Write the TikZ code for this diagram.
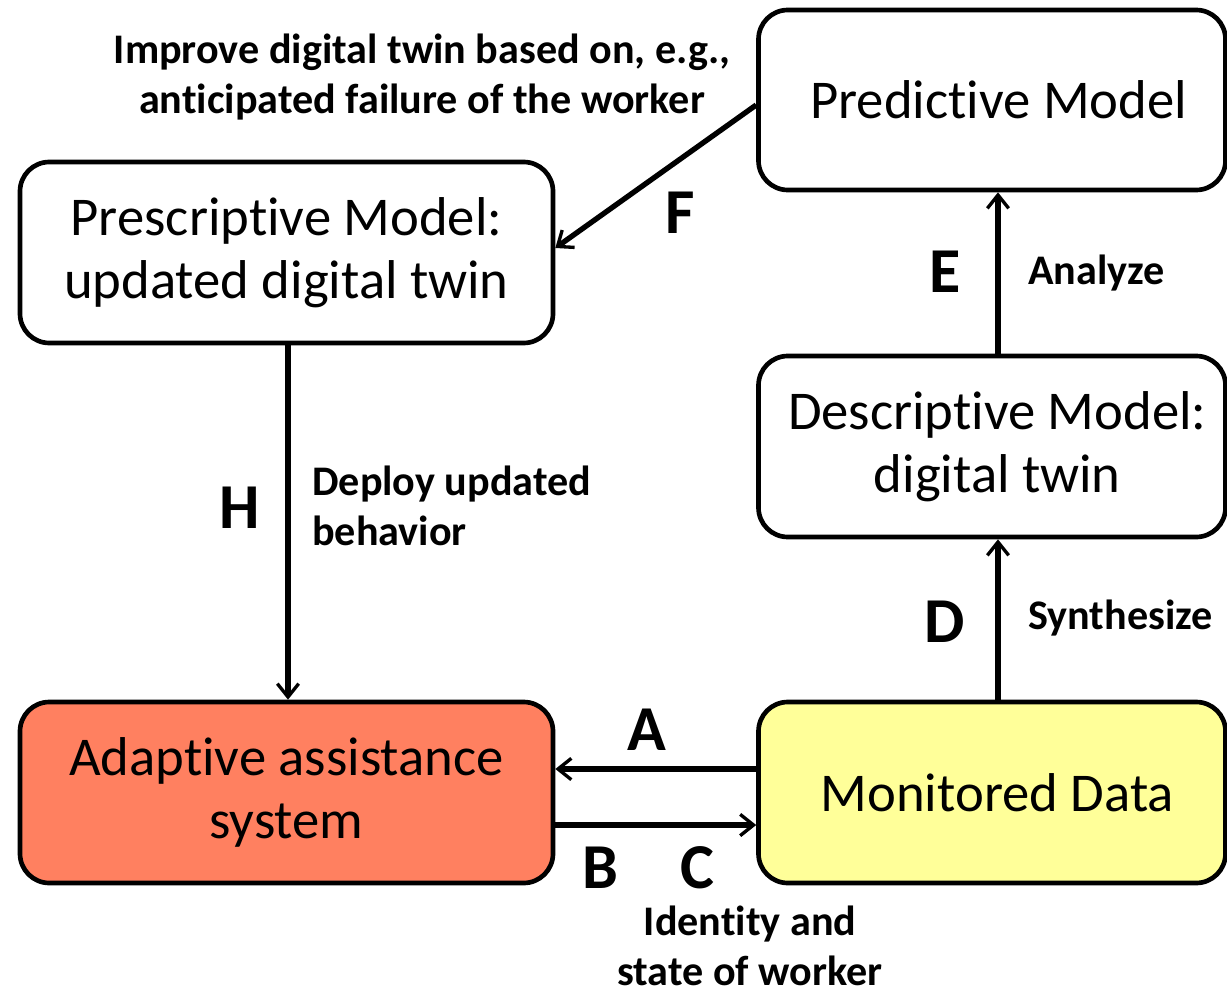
\documentclass[tikz,border=0pt]{standalone}
\usepackage{fontspec}
\setmainfont{Carlito}[Ligatures={NoCommon,NoRare,NoContextual}]
\usetikzlibrary{arrows.meta}
\definecolor{coral}{RGB}{255,128,96}
\definecolor{lightyel}{RGB}{255,255,153}
\newcommand\Ti{t\kern0pt i}
\tikzset{
  box/.style={draw=black, line width=3.5pt, rounded corners=22pt, align=center,
    font=\fontsize{41}{47.5}\selectfont, inner sep=0pt},
  lbl/.style={font=\bfseries\fontsize{31.6}{37.5}\selectfont, align=left, inner sep=0pt},
  letter/.style={font=\bfseries\fontsize{48}{50}\selectfont, inner sep=0pt},
  conn/.style={line width=4pt, -{Straight Barb[length=10pt,width=16pt,line width=2.5pt]}}
}
\begin{document}
\begin{tikzpicture}[x=0.75pt,y=-0.75pt]
\useasboundingbox (0,0) rectangle (1227,995);
\begin{scope}
\clip (0,0) rectangle (1227,995);
\node[box, minimum width=467*0.75pt, minimum height=180*0.75pt] (pred) at (992,100) {\hspace*{10pt}Predic\Ti ve Model};
\node[box, minimum width=533*0.75pt, minimum height=181*0.75pt] (presc) at (286.5,252.5) {Prescrip\Ti ve Model:\\updated digital twin};
\node[box, minimum width=467*0.75pt, minimum height=181*0.75pt] (desc) at (992,446.5) {\hspace*{8pt}Descrip\Ti ve Model:\\\hspace*{8pt}digital twin};
\node[box, fill=coral, minimum width=533*0.75pt, minimum height=181*0.75pt] (adapt) at (286.5,792.5) {Adap\Ti ve assistance\\system};
\node[box, fill=lightyel, minimum width=467*0.75pt, minimum height=181*0.75pt] (mon) at (992,792.5) {\hspace*{8pt}Monitored Data};
\end{scope}

\draw[conn] ([yshift=-5*0.75pt]pred.west) -- ([yshift=4.5*0.75pt]presc.east);
\draw[conn] ([xshift=6*0.75pt]desc.north) -- ([xshift=6*0.75pt]pred.south);
\draw[conn] ([xshift=6*0.75pt]mon.north) -- ([xshift=6*0.75pt]desc.south);
\draw[conn] ([xshift=1.5*0.75pt]presc.south) -- ([xshift=1.5*0.75pt]adapt.north);
\draw[conn] ([yshift=23.5*0.75pt]mon.west) -- ([yshift=23.5*0.75pt]adapt.east);
\draw[conn] ([yshift=-32.5*0.75pt]adapt.east) -- ([yshift=-32.5*0.75pt]mon.west);

\node[lbl, align=center] (improve) at (422,77) {Improve digital twin based on, e.g.,\\an\Ti cipated failure of the worker};
\node[letter] (F) at (680,213) {F};
\node[letter] (E) at (945,272) {E};
\node[lbl, anchor=west] (analyze) at (1028,273) {Analyze};
\node[letter] (D) at (945,622) {D};
\node[lbl, anchor=west] (synth) at (1028,618) {Synthesize};
\node[letter] (H) at (240,508) {H};
\node[lbl, anchor=west] (deploy) at (312,506) {Deploy updated\\behavior};
\node[letter] (A) at (647,730) {A};
\node[letter] (B) at (600,868) {B};
\node[letter] (C) at (697,868) {C};
\node[lbl, align=center] (ident) at (750,946) {Iden\Ti ty and\\state of worker};
\end{tikzpicture}
\end{document}
